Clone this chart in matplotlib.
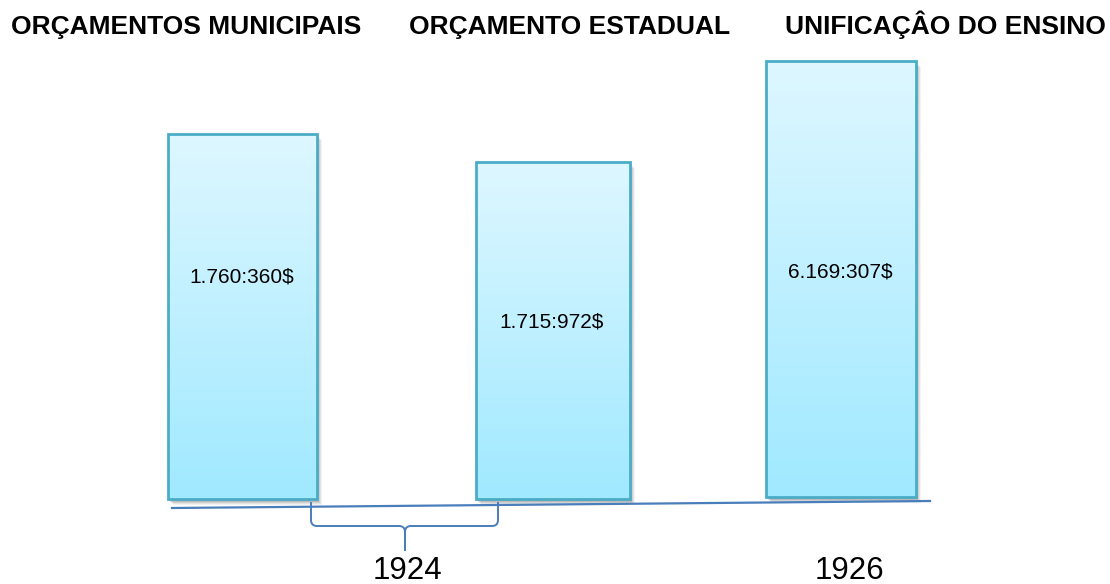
import matplotlib
matplotlib.use('Agg')
import matplotlib.pyplot as plt
import numpy as np
from matplotlib.path import Path
from matplotlib.patches import PathPatch, Rectangle

plt.rcParams['font.family'] = ['Liberation Sans', 'DejaVu Sans']

categories = ['ORÇAMENTOS MUNICIPAIS', 'ORÇAMENTO ESTADUAL', 'UNIFICAÇÂO DO ENSINO']
value_labels = ['1.760:360$', '1.715:972$', '6.169:307$']
# drawn heights of the bars (the original is not to scale)
bar_heights = [365, 337, 436]
years = ['1924', '1926']

H = 584  # figure height in px, used to flip y

fig = plt.figure(figsize=(11.1, 5.84), dpi=100)
ax = fig.add_axes([0, 0, 1, 1])
ax.set_xlim(0, 1110)
ax.set_ylim(0, H)
ax.axis('off')

bar_x = [242.5, 553, 841]
bar_w = [149, 154, 150]
bar_bottom = [H - 499, H - 499, H - 497]
edge = '#4BACC6'
line_col = '#4A7EBB'

# vertical gradient light top -> stronger cyan bottom
top_c = np.array([0xDE, 0xF7, 0xFF]) / 255
bot_c = np.array([0xA0, 0xE9, 0xFF]) / 255
t = np.linspace(0, 1, 256)[:, None]
grad = (top_c * (1 - t) + bot_c * t)[:, None, :]  # row 0 = top
grad = np.repeat(grad, 2, axis=1)

for i in range(len(categories)):
    x0 = bar_x[i] - bar_w[i] / 2
    y0 = bar_bottom[i]
    # soft shadow
    for k, a in [(6, 0.05), (5, 0.06), (4, 0.08), (3, 0.1), (2, 0.12)]:
        ax.add_patch(Rectangle((x0 + k - 1, y0 - k), bar_w[i], bar_heights[i],
                               facecolor='black', edgecolor='none', alpha=a, zorder=1))
    bars = ax.bar(bar_x[i], bar_heights[i], width=bar_w[i], bottom=y0,
                  facecolor='none', edgecolor=edge, linewidth=2, zorder=3)
    im = ax.imshow(grad, extent=[x0, x0 + bar_w[i], y0, y0 + bar_heights[i]],
                   origin='upper', aspect='auto', zorder=2)
    im.set_clip_path(bars[0])
    # white underlay so shadow doesn't tint the face
    ax.add_patch(Rectangle((x0, y0), bar_w[i], bar_heights[i],
                           facecolor='white', edgecolor='none', zorder=1.5))

ax.set_xlim(0, 1110)
ax.set_ylim(0, H)

# value labels inside bars
label_y = [277, 322, 272]
for i, lab in enumerate(value_labels):
    ax.text(bar_x[i] - 1, H - label_y[i], lab, ha='center', va='center',
            fontsize=15, color='black', zorder=4)

# headers
head_x = [186, 570, 945]
for i, c in enumerate(categories):
    ax.text(head_x[i], H - 34, c, ha='center', va='baseline',
            fontsize=19, fontweight='bold', color='black')

# base line
ax.plot([172, 930], [H - 508, H - 501], color=line_col, lw=1.6, zorder=5)

# brace under the first two bars
def brace_half(xe, xc, ytop, ymid, ytip, r):
    s = 1 if xc > xe else -1
    verts = [(xe, ytop), (xe, ymid - r), (xe, ymid), (xe + s * r, ymid),
             (xc - s * r, ymid), (xc, ymid), (xc, ymid + r), (xc, ytip)]
    codes = [Path.MOVETO, Path.LINETO, Path.CURVE3, Path.CURVE3,
             Path.LINETO, Path.CURVE3, Path.CURVE3, Path.LINETO]
    verts = [(vx, H - vy) for vx, vy in verts]
    return PathPatch(Path(verts, codes), fill=False, edgecolor=line_col, lw=1.4, zorder=5)

ax.add_patch(brace_half(311, 405, 502, 526, 551, 6))
ax.add_patch(brace_half(498, 405, 502, 526, 551, 6))

# years
year_x = [407, 849]
for i, y in enumerate(years):
    ax.text(year_x[i], H - 571, y, ha='center', va='center', fontsize=22.5, color='black')

fig.savefig('out.png', dpi=100)
